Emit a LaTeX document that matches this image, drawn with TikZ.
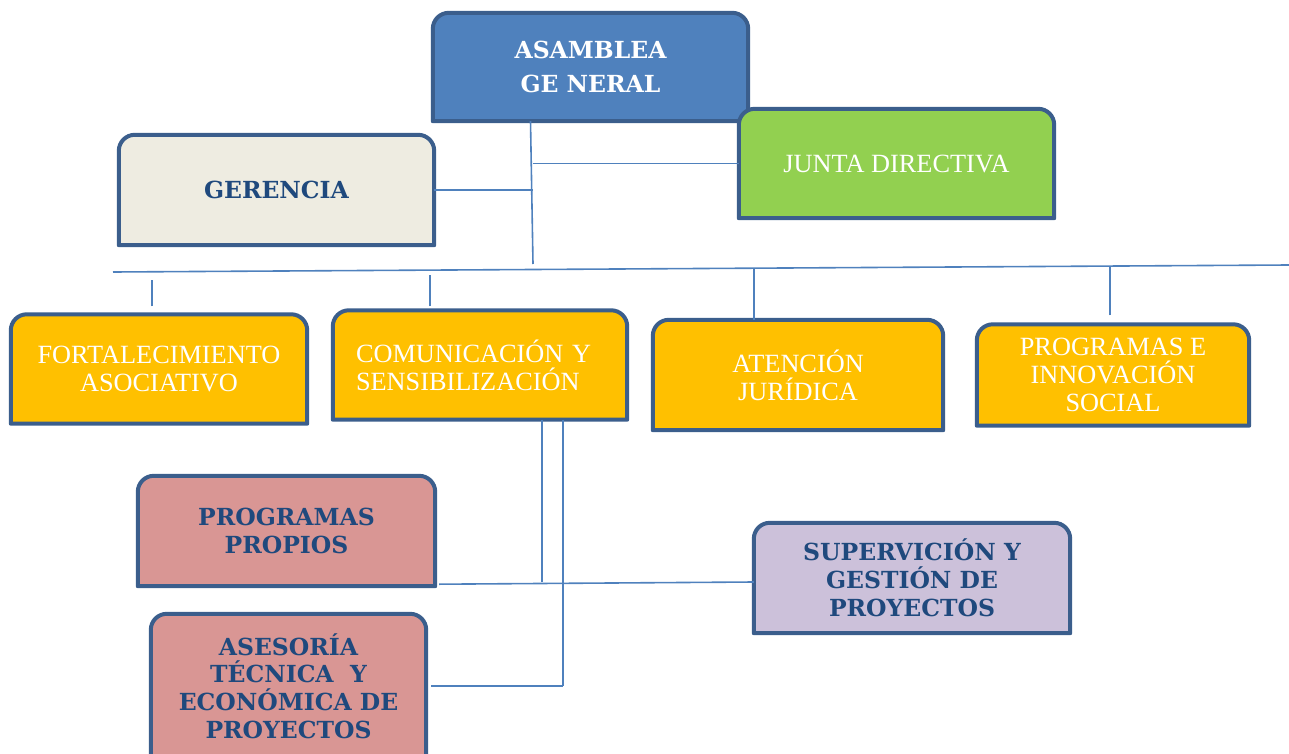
\documentclass[tikz,border=0pt]{standalone}
\usepackage{fontspec}
\setmainfont{Liberation Serif}
\newfontfamily\headfont{DejaVu Serif}
\usetikzlibrary{backgrounds}

\definecolor{boxborder}{HTML}{3B5E8C}
\definecolor{lineblue}{HTML}{4F81BD}
\definecolor{darkblue}{HTML}{1F497D}
\definecolor{asambleablue}{HTML}{4F81BD}
\definecolor{juntagreen}{HTML}{92D050}
\definecolor{gerenciagray}{HTML}{EEECE1}
\definecolor{areayellow}{HTML}{FFC000}
\definecolor{projectpink}{HTML}{D99694}
\definecolor{supervlilac}{HTML}{CCC1DA}

% box with rounded top corners only
\newcommand{\topbox}[2]{%
  \filldraw[box_line, fill=#2] (#1.south west) -- ([yshift=-16pt]#1.north west)
    arc[start angle=180, end angle=90, radius=16pt] -- ([xshift=-16pt]#1.north east)
    arc[start angle=90, end angle=0, radius=16pt] -- (#1.south east) -- cycle;}

\begin{document}
\begin{tikzpicture}[x=1pt,y=-1pt]
\tikzstyle{text_white} = [text=white, inner sep=0pt, align=center, font=\fontsize{26.3}{28}\selectfont]
\tikzstyle{text_head} = [text=white, inner sep=0pt, align=center, font=\headfont\bfseries\fontsize{23.5}{34}\selectfont]
\tikzstyle{text_blue} = [text=darkblue, inner sep=0pt, align=center, font=\headfont\bfseries\fontsize{23.5}{27.8}\selectfont]
\tikzstyle{box_line} = [draw=boxborder, line width=4, line join=round]
\tikzstyle{edge_style} = [lineblue, line width=1.6]
    \useasboundingbox (0,0) rectangle (1289,754);

    % top level
    \node[text_head, minimum width=315, minimum height=108] (asamblea) at (590.5,67) {ASAMBLEA\\GE NERAL};
    \node[text_white, minimum width=315, minimum height=109] (junta) at (896.5,163.5) {JUNTA DIRECTIVA};
    \node[text_blue, minimum width=315, minimum height=110] (gerencia) at (276.5,190) {GERENCIA};

    % areas
    \node[text_white, minimum width=296, minimum height=109] (fort) at (159,369) {FORTALECIMIENTO\\ASOCIATIVO};
    \node[text_white, minimum width=294, minimum height=109, text width=248, align=left] (comu) at (480,365) {COMUNICACIÓN Y\\SENSIBILIZACIÓN};
    \node[text_white, minimum width=290, minimum height=110] (aten) at (798,375) {ATENCIÓN\\JURÍDICA};
    \node[text_white, minimum width=272, minimum height=101] (prog) at (1113,375) {PROGRAMAS E\\INNOVACIÓN\\SOCIAL};

    % projects
    \node[text_blue, minimum width=297, minimum height=110] (propios) at (286.5,531) {PROGRAMAS\\PROPIOS};
    \node[text_blue, minimum width=275, minimum height=144] (asesoria) at (288.5,686) {ASESORÍA\\TÉCNICA\ \ Y\\ECONÓMICA DE\\PROYECTOS};
    \node[text_blue, minimum width=316, minimum height=110] (superv) at (912,578) {SUPERVICIÓN Y\\GESTIÓN DE\\PROYECTOS};

    \begin{scope}[on background layer]
    \topbox{asamblea}{asambleablue}
    \topbox{junta}{juntagreen}
    \topbox{gerencia}{gerenciagray}
    \topbox{fort}{areayellow}
    \topbox{comu}{areayellow}
    \topbox{aten}{areayellow}
    \topbox{prog}{areayellow}
    \topbox{propios}{projectpink}
    \topbox{asesoria}{projectpink}
    \topbox{superv}{supervlilac}
    \end{scope}

    \coordinate (trunk_end) at (533,264);
    \coordinate (bus_left) at (113,272);
    \coordinate (bus_right) at (1289,265);

    \draw[edge_style] ([xshift=-60pt]asamblea.south) -- (trunk_end);
    \draw[edge_style] (gerencia.east) -- (gerencia.east -| trunk_end);
    \draw[edge_style] (junta.west) -- (junta.west -| trunk_end);
    \draw[edge_style] (bus_left) -- (bus_right);

    \draw[edge_style] ([xshift=-7pt]fort.north) ++(0,-8) -- ++(0,-26);
    \draw[edge_style] ([xshift=-50pt]comu.north) ++(0,-4) -- ++(0,-31);
    \draw[edge_style] ([xshift=-44pt]aten.north) -- ++(0,-52);
    \draw[edge_style] ([xshift=-3pt]prog.north) ++(0,-9) -- ++(0,-49);

    \coordinate (drop1) at ([xshift=62pt]comu.south);
    \coordinate (drop2) at ([xshift=83pt]comu.south);
    \draw[edge_style] (drop1) -- ([yshift=4pt]drop1 |- propios.south);
    \draw[edge_style] (drop2) -- (drop2 |- asesoria.east);
    \draw[edge_style] ([xshift=4pt,yshift=2pt]propios.south east) -- ([yshift=-4pt]superv.west);
    \draw[edge_style] ([xshift=5pt]asesoria.east) -- (asesoria.east -| drop2);
\end{tikzpicture}
\end{document}
